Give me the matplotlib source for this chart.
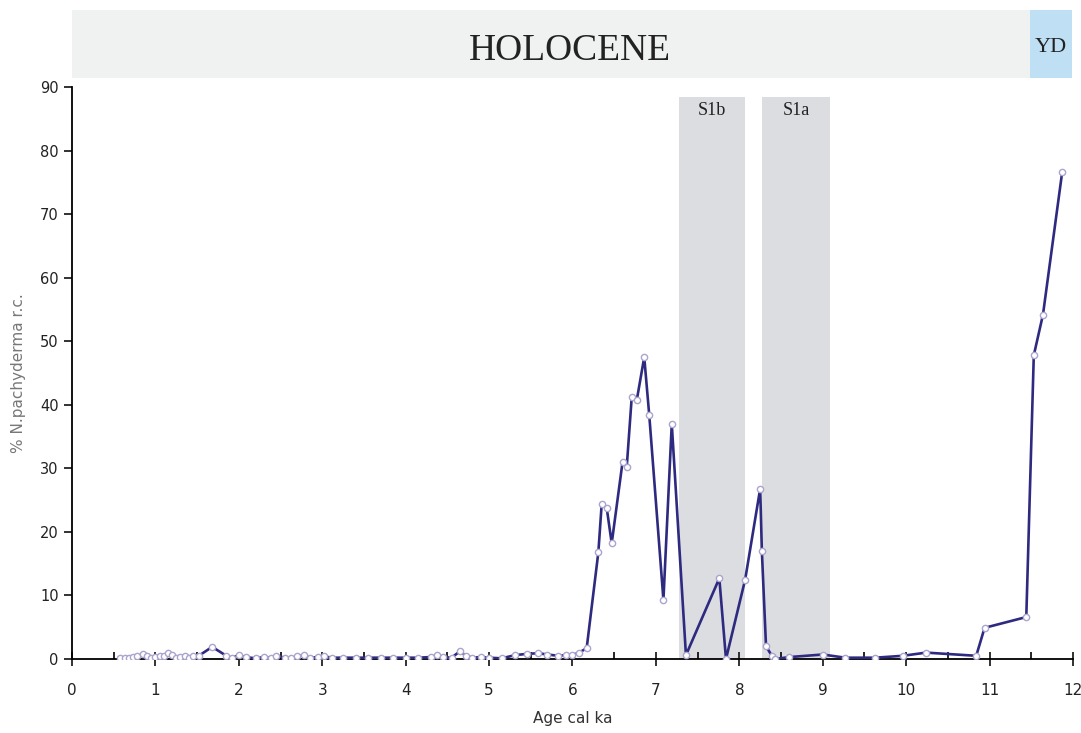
import matplotlib.pyplot as plt
from matplotlib.ticker import MultipleLocator

# Edad (ka cal) y % N. pachyderma (s.)
edad = [0.58, 0.63, 0.68, 0.73, 0.78, 0.85, 0.90, 0.95, 1.00, 1.05,
        1.10, 1.15, 1.20, 1.25, 1.30, 1.35, 1.40, 1.45, 1.52, 1.68,
        1.85, 1.92, 2.00, 2.08, 2.20, 2.30, 2.38, 2.45, 2.55, 2.62,
        2.70, 2.78, 2.85, 2.95, 3.02, 3.12, 3.25, 3.40, 3.55, 3.70,
        3.85, 4.00, 4.15, 4.30, 4.38, 4.45, 4.55, 4.65, 4.72, 4.80,
        4.90, 5.00, 5.15, 5.31, 5.45, 5.59, 5.70, 5.83, 5.92, 6.00,
        6.08, 6.17, 6.31, 6.35, 6.41, 6.47, 6.60, 6.65, 6.71, 6.77,
        6.86, 6.92, 7.09, 7.19, 7.36, 7.76, 7.84, 8.07, 8.25, 8.27,
        8.32, 8.39, 8.43, 8.60, 9.00, 9.27, 9.63, 9.96, 10.24, 10.84,
        10.94, 11.44, 11.53, 11.64, 11.87]
pct = [0.2, 0.1, 0.2, 0.3, 0.4, 0.8, 0.5, 0.2, 0.3, 0.5,
       0.4, 0.9, 0.6, 0.2, 0.3, 0.4, 0.2, 0.4, 0.5, 1.9,
       0.5, 0.2, 0.6, 0.3, 0.1, 0.3, 0.2, 0.5, 0.2, 0.1,
       0.4, 0.6, 0.2, 0.3, 0.4, 0.2, 0.2, 0.2, 0.2, 0.2,
       0.2, 0.2, 0.2, 0.3, 0.6, 0.3, 0.2, 1.2, 0.5, 0.2,
       0.3, 0.2, 0.1, 0.6, 0.8, 0.9, 0.7, 0.5, 0.6, 0.6,
       1.0, 1.7, 16.8, 24.4, 23.8, 18.2, 31.0, 30.2, 41.2, 40.7,
       47.5, 38.4, 9.3, 37.0, 0.6, 12.7, 0.0, 12.5, 26.8, 17.0,
       2.0, 0.5, 0.0, 0.3, 0.7, 0.2, 0.2, 0.5, 1.0, 0.5,
       4.9, 6.6, 47.8, 54.2, 76.6]

# Intervalos sapropel
s1_nombres = ['S1b', 'S1a']
s1_inicio = [7.28, 8.27]
s1_fin = [8.07, 9.09]

fig = plt.figure(figsize=(10.81, 7.33), dpi=100)
ax = fig.add_axes([0.0666, 0.101, 0.926, 0.780])

for nombre, a, b in zip(s1_nombres, s1_inicio, s1_fin):
    ax.axvspan(a, b, ymin=0, ymax=88.4 / 90, color='#dcdde0', lw=0, zorder=0)
    ax.text((a + b) / 2, 86.3, nombre, ha='center', va='center',
            family='Liberation Serif', fontsize=13, color='#222222')

ax.plot(edad, pct, color='#2e2a80', lw=1.9, marker='o', ms=4.5,
        mfc='white', mec='#aaa4cf', mew=1.0, zorder=3)

ax.set_xlim(0, 12)
ax.set_ylim(0, 90)
ax.xaxis.set_major_locator(MultipleLocator(1))
ax.xaxis.set_minor_locator(MultipleLocator(0.5))
ax.yaxis.set_major_locator(MultipleLocator(10))
ax.spines['top'].set_visible(False)
ax.spines['right'].set_visible(False)
ax.spines['left'].set_linewidth(1.3)
ax.spines['bottom'].set_linewidth(1.3)
ax.tick_params(axis='x', which='major', direction='inout', length=10, width=1.3,
               labelsize=11, colors='#222222', pad=12)
ax.tick_params(axis='x', which='minor', direction='in', length=5, width=1.2)
ax.tick_params(axis='y', which='major', direction='out', length=6, width=1.3,
               labelsize=10.5, colors='#222222')
ax.set_xlabel('Age cal ka', fontsize=11, color='#333333', labelpad=10)
ax.set_ylabel('% N.pachyderma r.c.', fontsize=11, color='#777777', labelpad=10)

# Banda superior de periodos
banda = fig.add_axes([0.0666, 0.894, 0.925, 0.093])
banda.set_xlim(0, 12)
banda.set_ylim(0, 1)
banda.axvspan(0, 11.5, color='#f0f1f1', lw=0)
banda.axvspan(11.5, 12, color='#bfdff5', lw=0)
banda.text(5.97, 0.4, 'HOLOCENE', ha='center', va='center',
           family='Liberation Serif', fontsize=27, color='#222222')
banda.text(11.75, 0.45, 'YD', ha='center', va='center',
           family='Liberation Serif', fontsize=16, color='#222222')
banda.axis('off')

fig.savefig('out.png', dpi=100)
